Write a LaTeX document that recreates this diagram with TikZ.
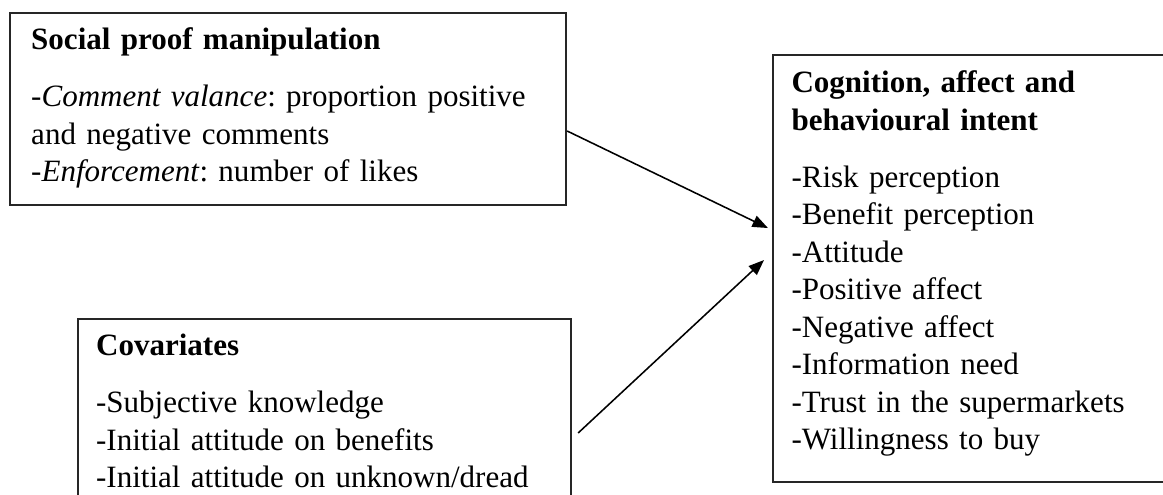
\documentclass[tikz,border=0pt]{standalone}
\usepackage{fontspec}
\setmainfont{Liberation Serif}
\usetikzlibrary{positioning,arrows.meta}
\frenchspacing

\begin{document}
\begin{tikzpicture}[
		x=0.0136cm, y=-0.0136cm,
		frame/.style={rectangle, draw=black!85, line width=0.75pt, anchor=north west, inner sep=0pt},
		txt/.style={inner sep=0pt, align=left, text width=7.4cm, font=\fontsize{12}{14.5}\selectfont},
		arrow/.style={-{Triangle[length=6pt, width=4.6pt]}, line width=0.6pt}
		]
		\useasboundingbox (0,0) rectangle (1163,494);
		\clip (0,0) rectangle (1163,494);
		
		%==================== Frames ====================%
		\node[frame, minimum width=7.562cm, minimum height=2.611cm] (social) at (9,12) {};
		\node[frame, minimum width=6.705cm, minimum height=3.4cm] (covar) at (77,318) {};
		\node[frame, minimum width=5.8cm, minimum height=5.807cm] (outcome) at (772,54) {};
		
		%==================== Texts ====================%
		\node[txt, below right=4.18pt and 8.4pt of social.north west] (socialtext) {\strut\textbf{Social proof manipulation}\\[7.7pt]
			-\textit{Comment valance}: proportion positive\\
			and negative comments\\
			-\textit{Enforcement}: number of likes};
		
		\node[txt, below right=4.18pt and 7.2pt of covar.north west] (covartext) {\strut\textbf{Covariates}\\[7.7pt]
			-Subjective knowledge\\
			-Initial attitude on benefits\\
			-Initial attitude on unknown/dread};
		
		\node[txt, below right=4.57pt and 7.35pt of outcome.north west] (outcometext) {\strut\textbf{Cognition, affect and}\\
			\textbf{behavioural intent}\\[7.7pt]
			-Risk perception\\
			-Benefit perception\\
			-Attitude\\
			-Positive affect\\
			-Negative affect\\
			-Information need\\
			-Trust in the supermarkets\\
			-Willingness to buy};
		
		%==================== Arrows ====================%
		\draw[arrow] ([shift={(0,22)}]social.east) -- ([shift={(-4,-40.5)}]outcome.west);
		\draw[arrow] ([shift={(6,-11)}]covar.east) -- ([shift={(-8,-8.5)}]outcome.west);
		
	\end{tikzpicture}
\end{document}
